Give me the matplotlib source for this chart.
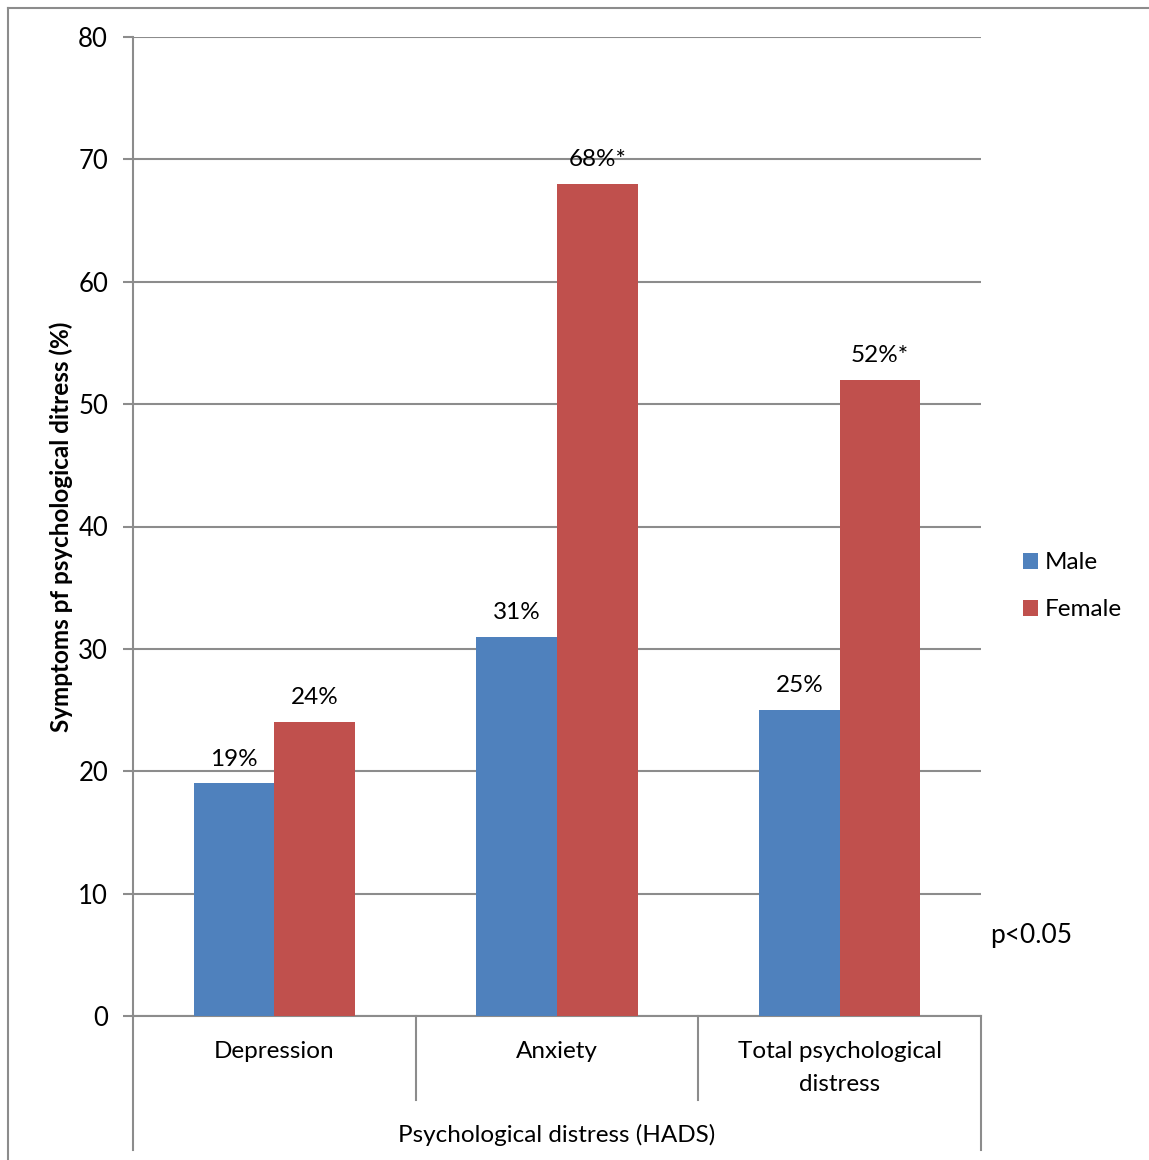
import numpy as np
import matplotlib
matplotlib.use("Agg")
import matplotlib.pyplot as plt
from matplotlib.lines import Line2D
import matplotlib.transforms as mtransforms

plt.rcParams['font.family'] = ['Lato', 'DejaVu Sans']

# data
categories = ["Depression", "Anxiety", "Total psychological\ndistress"]
male = [19, 31, 25]
female = [24, 68, 52]
male_labels = ["19%", "31%", "25%"]
female_labels = ["24%", "68%*", "52%*"]

blue = "#4F81BD"
red = "#C0504D"
grey = "#8C8C8C"

fig = plt.figure(figsize=(11.49, 11.60), dpi=100)
ax = fig.add_axes([133/1149, 1 - 1016/1160, (981-133)/1149, (1016-37)/1160])

x = np.arange(len(categories))
w = 0.285
bm = ax.bar(x - w/2, male, w, color=blue, label="Male", zorder=3)
bf = ax.bar(x + w/2, female, w, color=red, label="Female", zorder=3)

for rect, lab in zip(bm, male_labels):
    ax.annotate(lab, (rect.get_x() + rect.get_width()/2, rect.get_height()),
                xytext=(0, 10), textcoords="offset points", ha="center", va="bottom", fontsize=17.5)
for rect, lab in zip(bf, female_labels):
    ax.annotate(lab, (rect.get_x() + rect.get_width()/2, rect.get_height()),
                xytext=(0, 10), textcoords="offset points", ha="center", va="bottom", fontsize=17.5)

ax.set_xlim(-0.5, 2.5)
ax.set_ylim(0, 80)
ax.set_yticks(range(0, 81, 10))
ax.yaxis.grid(True, color=grey, linewidth=1.5, zorder=0)
ax.set_axisbelow(True)
ax.tick_params(axis="y", length=7, width=1.5, color=grey, labelsize=18.5, pad=11)
ax.set_xticks([])
for s in ["top", "right"]:
    ax.spines[s].set_visible(False)
for s in ["left", "bottom"]:
    ax.spines[s].set_color(grey)
    ax.spines[s].set_linewidth(1.5)

ax.set_ylabel("Symptoms pf psychological ditress (%)", fontsize=17.5, fontweight="bold", labelpad=4)

# category labels and group divider lines under the axis
trans = mtransforms.blended_transform_factory(ax.transData, ax.transAxes)
for i, cat in enumerate(categories):
    ax.text(i, -0.026, cat, transform=trans, ha="center", va="top", fontsize=17.5, linespacing=1.7)
for xb in [0.5, 1.5]:
    ax.add_line(Line2D([xb, xb], [0, -0.086], transform=trans, color=grey, lw=1.5, clip_on=False))
for xb in [-0.5, 2.5]:
    ax.add_line(Line2D([xb, xb], [0, -0.137], transform=trans, color=grey, lw=1.5, clip_on=False))
ax.text(1, -0.122, "Psychological distress (HADS)", transform=trans, ha="center", va="center", fontsize=17.5)

ax.legend(loc="center left", bbox_to_anchor=(1.049, 0.439), frameon=False, fontsize=17.5,
          borderaxespad=0, borderpad=0,
          handlelength=0.62, handleheight=0.62, handletextpad=0.3, labelspacing=1.07)

fig.text(990/1149, 1 - 935/1160, "p<0.05", fontsize=19, ha="left", va="center")

# outer chart border
fig.add_artist(Line2D([8/1149, 8/1149], [0, 1 - 8/1160], transform=fig.transFigure, color=grey, lw=1.5))
fig.add_artist(Line2D([8/1149, 1], [1 - 8/1160, 1 - 8/1160], transform=fig.transFigure, color=grey, lw=1.5))

fig.savefig("out.png", dpi=100)
